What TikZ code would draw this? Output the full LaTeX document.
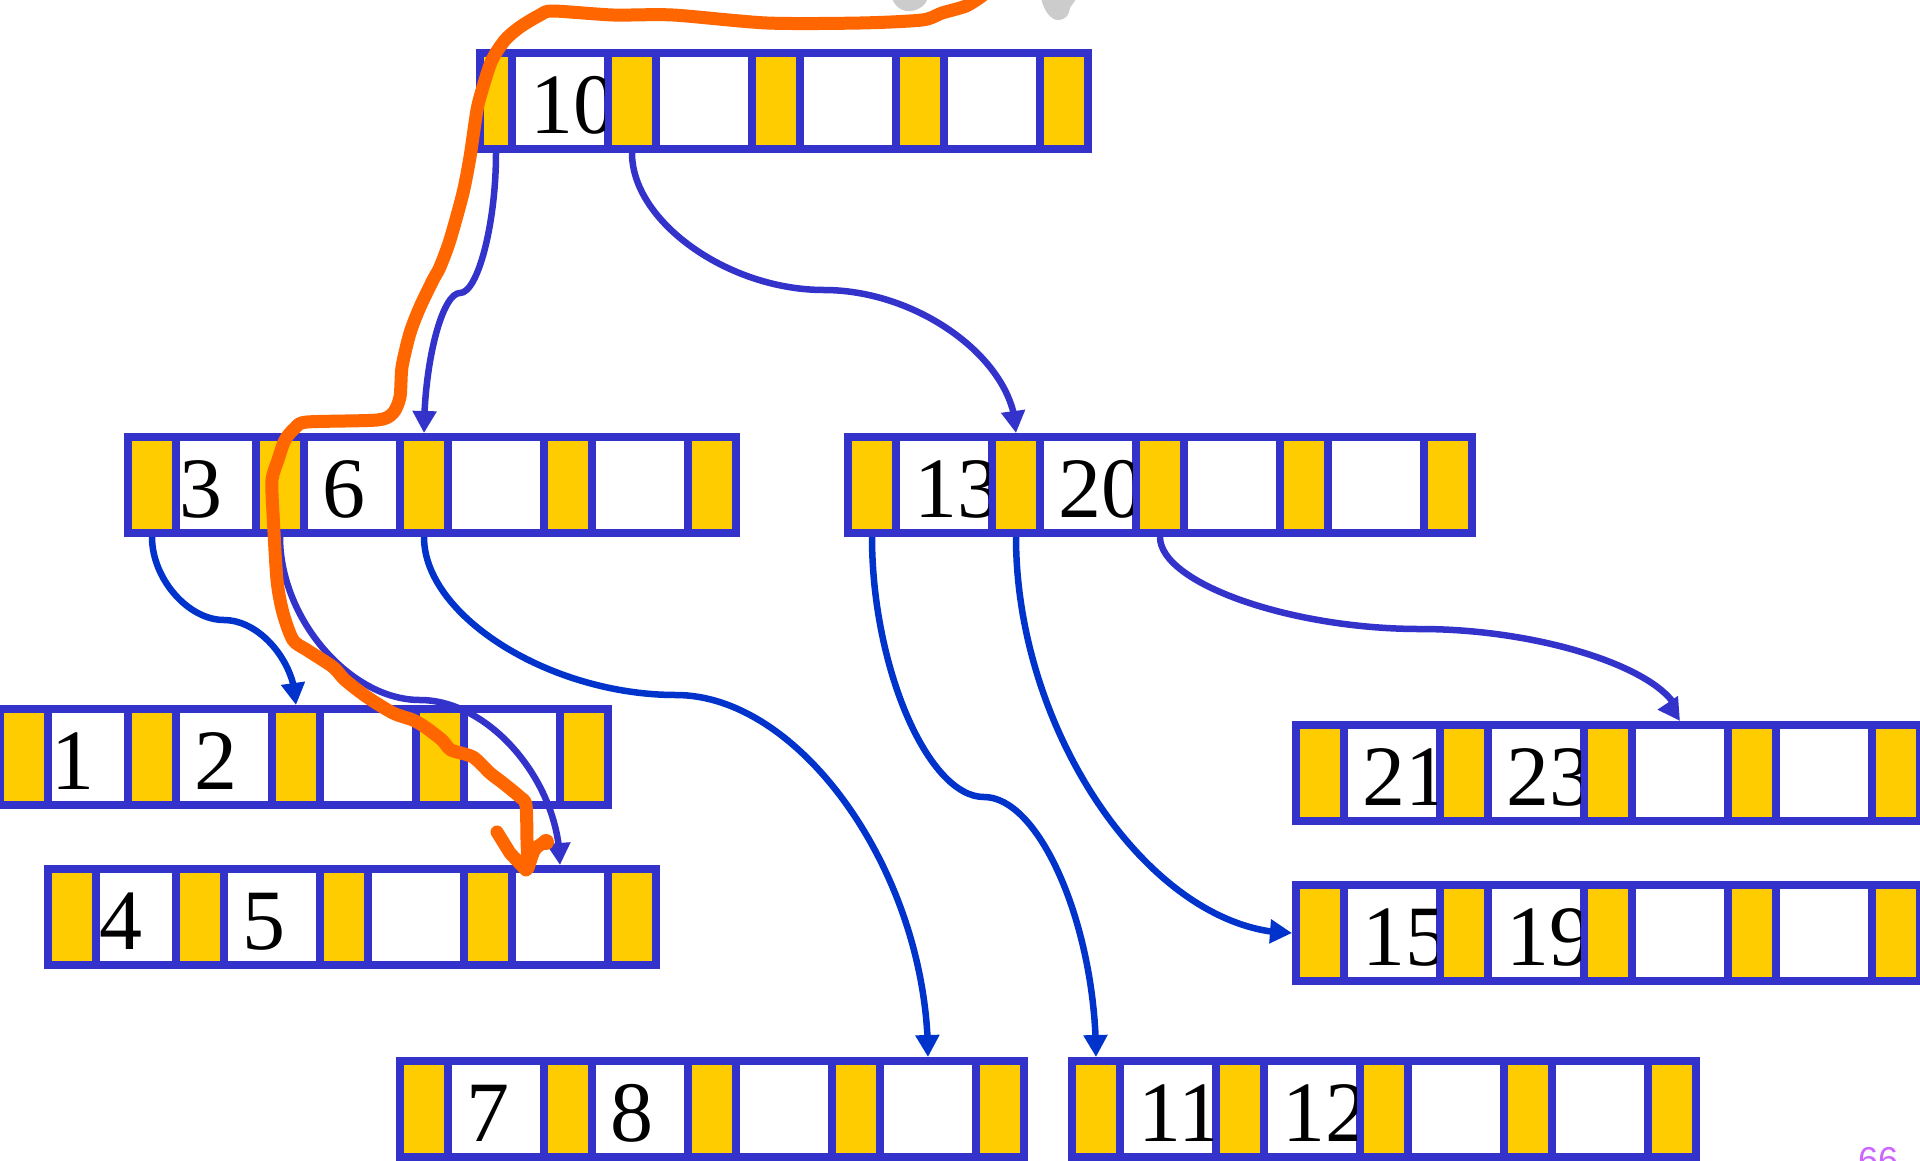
\documentclass[tikz,border=0pt]{standalone}
\usepackage{fontspec}
\setmainfont{Liberation Serif}
\newfontfamily\sansf{Liberation Sans}
\usetikzlibrary{arrows.meta,calc,bending}
\definecolor{nodeblue}{RGB}{51,51,204}
\definecolor{cellyellow}{RGB}{255,204,0}
\definecolor{linkblue}{RGB}{0,51,204}
\definecolor{penorange}{RGB}{255,102,0}
\definecolor{blobgray}{RGB}{204,204,204}
\definecolor{pagenum}{RGB}{204,102,255}
\tikzset{
  bframe/.style={rectangle, fill=nodeblue, draw=none, inner sep=0pt, outer sep=0pt,
    minimum height=104pt, anchor=north west},
  digit/.style={anchor=base west, inner sep=0pt, outer sep=0pt,
    font=\fontsize{86}{86}\selectfont, text=black},
  linkP/.style={draw=nodeblue, line width=6.5pt, -{Triangle[width=23pt,length=22pt]}},
  linkB/.style={draw=linkblue, line width=6.5pt, -{Triangle[width=23pt,length=22pt]}},
  linkPflex/.style={draw=nodeblue, line width=6.5pt, -{Triangle[width=23pt,length=22pt,flex=1.6]}},
  pen/.style={draw=penorange, line width=13pt, line cap=round, line join=round},
}
% #1 name, #2 x, #3 y, #4 first yellow width, #5 first white width, #6 text1, #7 text2, #8 text1 offset
\newcommand{\bnode}[8]{%
  \pgfmathsetmacro{\bW}{504+#4+#5}%
  \pgfmathsetmacro{\bYa}{#2+8}%
  \pgfmathsetmacro{\bWa}{\bYa+#4+8}%
  \pgfmathsetmacro{\bYb}{\bWa+#5+8}%
  \pgfmathsetmacro{\bWb}{\bYb+48}%
  \pgfmathsetmacro{\bYc}{\bWb+96}%
  \pgfmathsetmacro{\bWc}{\bYc+48}%
  \pgfmathsetmacro{\bYd}{\bWc+96}%
  \pgfmathsetmacro{\bWd}{\bYd+48}%
  \pgfmathsetmacro{\bYe}{\bWd+96}%
  \node[bframe, minimum width=\bW pt] (#1) at (#2,#3) {};
  \fill[cellyellow] (\bYa,#3+8) rectangle ++(#4,88);
  \foreach \xx in {\bYb,\bYc,\bYd,\bYe} {\fill[cellyellow] (\xx,#3+8) rectangle ++(40,88);}
  \fill[white] (\bWa,#3+8) rectangle ++(#5,88);
  \foreach \xx in {\bWb,\bWc,\bWd} {\fill[white] (\xx,#3+8) rectangle ++(88,88);}
  \coordinate (#1-Y1-t) at (\bYa+#4/2,#3);
  \coordinate (#1-Y1-b) at (\bYa+#4/2,#3+104);
  \coordinate (#1-W1-t) at (\bWa+#5/2,#3);
  \coordinate (#1-W1-b) at (\bWa+#5/2,#3+104);
  \foreach \nm/\xx/\ww in {Y2/\bYb/40, Y3/\bYc/40, Y4/\bYd/40, Y5/\bYe/40,
                          W2/\bWb/88, W3/\bWc/88, W4/\bWd/88} {
    \coordinate (#1-\nm-t) at (\xx+\ww/2,#3);
    \coordinate (#1-\nm-b) at (\xx+\ww/2,#3+104);
  }
  \begin{scope}
    \clip (\bWa,#3+8) rectangle ++(#5,88);
    \node[digit] (#1-k1) at (\bWa+#8,#3+84) {#6};
  \end{scope}
  \begin{scope}
    \clip (\bWb,#3+8) rectangle ++(88,88);
    \node[digit] (#1-k2) at (\bWb+14.5,#3+84) {#7};
  \end{scope}
}
% curved connector: #1 from, #2 to, #3 y of middle (px, downward), #4 style
\newcommand{\sconn}[4]{%
  \draw[#4] let \p1=(#1), \p2=(#2) in
    (\p1) .. controls (\x1,{(\y1-#3pt)/2}) and ({\x1+(\x2-\x1)/4},-#3pt) ..
    ({(\x1+\x2)/2},-#3pt) .. controls ({\x2-(\x2-\x1)/4},-#3pt) and (\x2,{(\y2-#3pt)/2}) .. (\p2);
}
\begin{document}
\begin{tikzpicture}[x=1pt,y=-1pt]
\useasboundingbox (0,0) rectangle (1920,1160);
\clip (0,0) rectangle (1920,1160);
\fill[white] (0,0) rectangle (1920,1160);

% B-tree nodes
\bnode{root}{476}{49}{24}{88}{10}{}{14.5}
\bnode{n36}{124}{433}{40}{72}{3}{6}{-1}
\bnode{n1320}{844}{433}{40}{88}{13}{20}{14.5}
\bnode{n12}{-4}{705}{40}{72}{1}{2}{-1}
\bnode{n45}{44}{865}{40}{72}{4}{5}{-1}
\bnode{n2123}{1292}{721}{40}{88}{21}{23}{14.5}
\bnode{n1519}{1292}{881}{40}{88}{15}{19}{14.5}
\bnode{n78}{396}{1057}{40}{88}{7}{8}{14.5}
\bnode{n1112}{1068}{1057}{40}{88}{11}{12}{14.5}

% connectors
\sconn{root-Y1-b}{n36-Y3-t}{293}{linkP}
\sconn{root-Y2-b}{n1320-Y2-t}{290}{linkP}
\sconn{n36-Y1-b}{n12-Y3-t}{620}{linkB}
\sconn{n36-Y2-b}{n45-W4-t}{700}{linkP}
\sconn{n36-Y3-b}{n78-W4-t}{695}{linkB}
\sconn{n1320-Y1-b}{n1112-Y1-t}{797}{linkB}
\sconn{n1320-Y3-b}{n2123-W3-t}{629}{linkPflex}
\draw[linkB] let \p1=(n1320-Y2-b), \p2=(n1519.west) in
  (\p1) .. controls (\x1,{(\y1+\y2)/2}) and ({(\x1+\x2)/2},\y2) .. (\p2);

% grey blobs at the top edge
\fill[blobgray] (892,-2) .. controls (895,8) and (904,12) .. (911,11)
  .. controls (919,10) and (926,5) .. (928,-2) -- cycle;
\fill[blobgray] (1041,-2) .. controls (1044,12) and (1052,21) .. (1059,20)
  .. controls (1067,19) and (1069,14) .. (1070,8) .. controls (1072,4) and (1075,2) .. (1076,-2) -- cycle;

% hand-drawn orange search path
\draw[pen] plot[smooth, tension=0.45] coordinates {
  (982,-4) (966,6) (942,13) (922,20) (860,23) (767,23) (673,15) (613,15) (553,11)
  (540,15) (520,27) (505,40) (492,60) (483,87) (477,110) (470,157) (463,193)
  (450,240) (440,267) (433,280) (420,307) (410,333) (402,367) (400,397) (393,413)
  (377,420) (307,422) (295,428) (285,440) (278,460) (272,480) (273,513) (277,580)
  (283,613) (293,640) (307,650) (333,667) (345,680) (367,697) (393,713) (413,720)
  (425,727) (442,740) (451,750) (473,757) (490,773) (503,783) (520,797) (526,805)
  (527,840) (528,868)};
\draw[pen] (497,832) -- (510,853) -- (526,870);
\draw[pen] (528,868) -- (532,856) .. controls (535,848) .. (546,841);
\fill[penorange] (546,842) circle (8);

% page number
\node[anchor=base west, inner sep=0pt, font=\sansf\fontsize{36}{36}\selectfont, text=pagenum]
  (pg) at (1858,1172) {66};
\end{tikzpicture}
\end{document}
